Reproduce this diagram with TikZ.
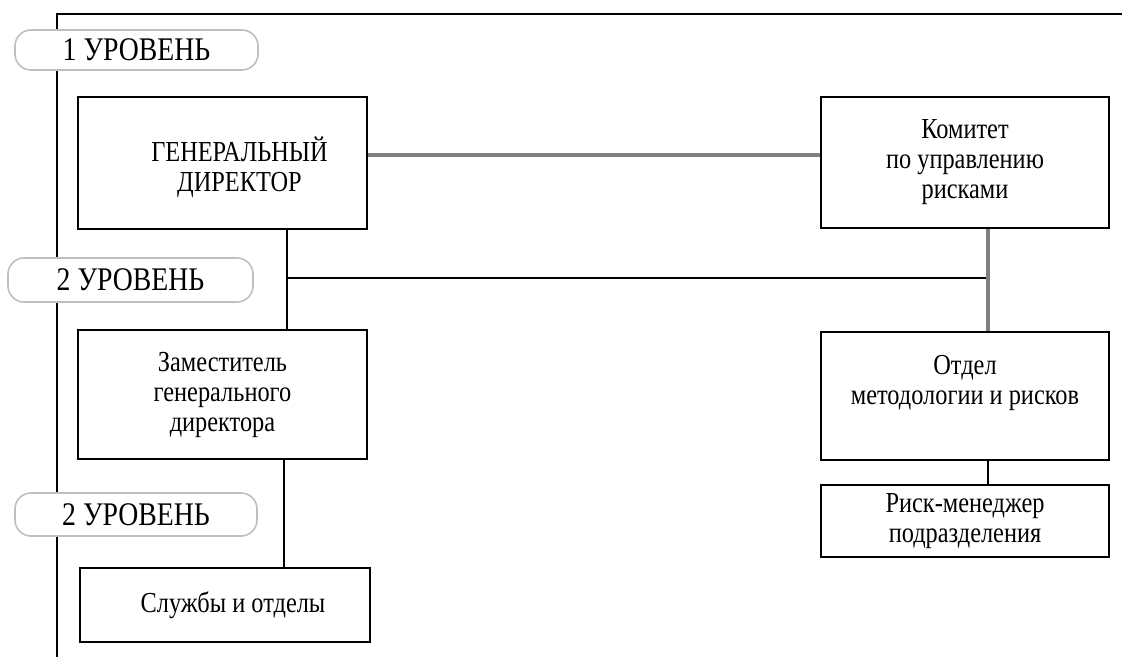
\documentclass[tikz,border=0pt]{standalone}
\usepackage{fontspec}
\setmainfont[FakeStretch=0.84]{Liberation Serif}

\tikzset{
  unit/.style={draw, line width=1pt, fill=white, align=center, inner sep=0pt,
    font=\fontsize{14.5}{15}\selectfont},
  level/.style={draw=black!25, line width=0.8pt, rounded corners=8pt, fill=white,
    inner sep=0pt, font=\fontsize{16.5}{18}\selectfont},
  mainline/.style={line width=1pt},
  riskline/.style={draw=black!50, line width=1.6pt}
}

\begin{document}
\begin{tikzpicture}[x=0.5pt,y=-0.5pt]
\useasboundingbox (0,0) rectangle (1122,657);

% A. Open frame on the left and on top
\draw[line width=1.2pt] (57,657) -- (57,14) -- (1122,14);

% B. Level tags laid over the frame
\node[level, minimum width=121.5pt, minimum height=20pt] (lvone) at (136.5,50) {1 УРОВЕНЬ};
\node[level, minimum width=122.5pt, minimum height=22pt] (lvtwo) at (130.5,280) {2 УРОВЕНЬ};
\node[level, minimum width=121pt, minimum height=21.5pt] (lvthree) at (136,514.5) {2 УРОВЕНЬ};

% C. Units of the left column
\node[unit, minimum width=144.5pt, minimum height=66pt,
  label={[align=center, font=\fontsize{14.5}{15}\selectfont, xshift=8.5pt, yshift=-2pt]center:ГЕНЕРАЛЬНЫЙ\\ДИРЕКТОР}] (gd) at (222.5,163) {};
\node[unit, minimum width=144.5pt, minimum height=64.5pt] (zam) at (222.5,394.5) {Заместитель\\генерального\\директора};
\node[unit, minimum width=145pt, minimum height=37pt] (sl) at (225,605) {\hspace*{8pt}Службы и отделы};

% D. Units of the right column
\node[unit, minimum width=144pt, minimum height=65.5pt] (kom) at (965,162.5) {Комитет\\по управлению\\рисками};
\node[unit, minimum width=144pt, minimum height=64pt] (otd) at (965,396) {Отдел\\методологии и рисков\\[1pt]};
\node[unit, minimum width=144pt, minimum height=36pt] (rm) at (965,521) {Риск-менеджер\\подразделения};

% E. Connectors
\coordinate (jl) at (287,278);
\coordinate (jr) at (988,278);
\coordinate (jz) at (284,0);
\coordinate (jh) at (0,155);
\draw[riskline] (gd.east |- jh) -- (kom.west |- jh);
\draw[mainline] (gd.south -| jl) -- (zam.north -| jl);
\draw[mainline] (jl) -- (jr);
\draw[riskline] (kom.south -| jr) -- (otd.north -| jr);
\draw[mainline] (zam.south -| jz) -- (sl.north -| jz);
\draw[mainline] (otd.south -| jr) -- (rm.north -| jr);

\end{tikzpicture}
\end{document}
